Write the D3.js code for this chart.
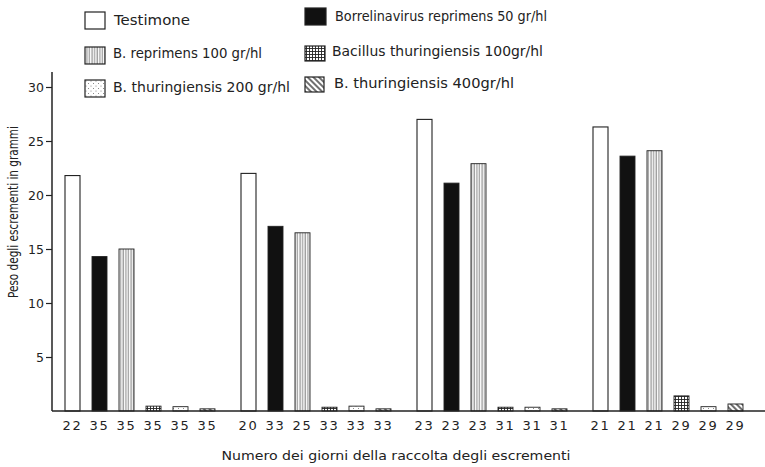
<!DOCTYPE html>
<html>
<head>
<meta charset="utf-8">
<script src="https://cdn.jsdelivr.net/npm/d3@7"></script>
<style>
  html, body { margin: 0; padding: 0; background: #fff; }
  svg { display: block; font-family: "DejaVu Sans", sans-serif; }
</style>
</head>
<body>
<div id="chart"></div>
<script>
// serie e valori (grammi)
const SERIES = ["Testimone", "Borrelinavirus reprimens 50 gr/hl", "B. reprimens 100 gr/hl",
                "Bacillus thuringiensis 100gr/hl", "B. thuringiensis 200 gr/hl", "B. thuringiensis 400gr/hl"];
const GROUPS = ["g1", "g2", "g3", "g4"];

const testimone   = [21.8, 22.0, 27.0, 26.3];
const borrelina50 = [14.3, 17.1, 21.1, 23.6];
const reprimens100 = [15.0, 16.5, 22.9, 24.1];
const bacillus100 = [0.45, 0.35, 0.35, 1.4];
const thur200     = [0.4, 0.45, 0.35, 0.4];
const thur400     = [0.2, 0.2, 0.2, 0.65];

// numero dei giorni, sotto ogni barra
const dayLabels = [
    ["22", "35", "35", "35", "35", "35"],
    ["20", "33", "25", "33", "33", "33"],
    ["23", "23", "23", "31", "31", "31"],
    ["21", "21", "21", "29", "29", "29"]
];
const yTicks = [5, 10, 15, 20, 25, 30];

const seriesValues = [testimone, borrelina50, reprimens100, bacillus100, thur200, thur400];
const FILLS = ["white", "#111", "url(#vstripe)", "url(#grid)", "url(#dots)", "url(#diag)"];

const W = 765, H = 467;
const svg = d3.select("#chart").append("svg").attr("width", W).attr("height", H);

// patterns
const defs = svg.append("defs");
const vs = defs.append("pattern").attr("id", "vstripe").attr("patternUnits", "userSpaceOnUse")
    .attr("width", 2.6).attr("height", 10);
vs.append("rect").attr("width", 2.6).attr("height", 10).attr("fill", "#fff");
vs.append("line").attr("x1", 1).attr("x2", 1).attr("y1", 0).attr("y2", 10)
    .attr("stroke", "#555").attr("stroke-width", 0.8);

const gp = defs.append("pattern").attr("id", "grid").attr("patternUnits", "userSpaceOnUse")
    .attr("width", 3).attr("height", 3);
gp.append("rect").attr("width", 3).attr("height", 3).attr("fill", "#fff");
gp.append("path").attr("d", "M0.5,0V3M0,0.5H3").attr("stroke", "#222").attr("stroke-width", 0.9);

const dp = defs.append("pattern").attr("id", "dots").attr("patternUnits", "userSpaceOnUse")
    .attr("width", 5).attr("height", 5);
dp.append("rect").attr("width", 5).attr("height", 5).attr("fill", "#fff");
dp.append("circle").attr("cx", 1).attr("cy", 1).attr("r", 0.5).attr("fill", "#666");
dp.append("circle").attr("cx", 3.5).attr("cy", 3.5).attr("r", 0.5).attr("fill", "#666");

const dg = defs.append("pattern").attr("id", "diag").attr("patternUnits", "userSpaceOnUse")
    .attr("width", 4).attr("height", 4).attr("patternTransform", "rotate(45)");
dg.append("rect").attr("width", 4).attr("height", 4).attr("fill", "#fff");
dg.append("line").attr("x1", 0).attr("x2", 4).attr("y1", 1).attr("y2", 1)
    .attr("stroke", "#222").attr("stroke-width", 1.3);

// scales
const x0 = d3.scaleBand().domain(GROUPS).range([59, 749]).paddingInner(14 / 176).paddingOuter(0);
const x1 = d3.scaleBand().domain(d3.range(SERIES.length)).range([0, x0.bandwidth()])
    .paddingInner(12 / 27).paddingOuter(6 / 27);
const y = d3.scaleLinear().domain([0, 30]).range([411, 87]);
const axisX = 52;

// bars
const bars = [];
GROUPS.forEach((g, gi) => {
    seriesValues.forEach((vals, si) => {
        bars.push({ g, gi, si, v: vals[gi], label: dayLabels[gi][si] });
    });
});

svg.append("g").selectAll("rect")
    .data(bars)
    .join("rect")
    .attr("x", d => x0(d.g) + x1(d.si))
    .attr("y", d => y(d.v))
    .attr("width", x1.bandwidth())
    .attr("height", d => y(0) - y(d.v))
    .attr("fill", d => FILLS[d.si])
    .attr("stroke", "#222")
    .attr("stroke-width", d => d.si === 0 ? 1.1 : 0.9);

// day labels
svg.append("g").selectAll("text")
    .data(bars)
    .join("text")
    .attr("x", d => x0(d.g) + x1(d.si) + x1.bandwidth() / 2)
    .attr("y", 430)
    .attr("text-anchor", "middle")
    .attr("font-size", 13)
    .attr("letter-spacing", 1.8)
    .attr("fill", "#222")
    .text(d => d.label);

// axes
const yAxis = svg.append("g")
    .attr("transform", `translate(${axisX},0)`)
    .call(d3.axisLeft(y).tickValues(yTicks).tickSize(6).tickPadding(2))
    .call(ax => ax.select(".domain").remove());
yAxis.selectAll(".tick line").attr("stroke", "#222").attr("stroke-width", 1.2);
yAxis.selectAll(".tick text").attr("font-size", 12.5).attr("fill", "#222")
    .attr("font-family", "DejaVu Sans, sans-serif");

svg.append("line")
    .attr("x1", axisX).attr("x2", axisX)
    .attr("y1", y(0)).attr("y2", y(31.4))
    .attr("stroke", "#222").attr("stroke-width", 1.5);
svg.append("line")
    .attr("x1", axisX).attr("x2", W)
    .attr("y1", y(0)).attr("y2", y(0))
    .attr("stroke", "#222").attr("stroke-width", 1.5);

// axis titles
svg.append("text")
    .attr("x", 396).attr("y", 460)
    .attr("text-anchor", "middle")
    .attr("font-size", 12.5)
    .attr("fill", "#222")
    .attr("textLength", 349)
    .attr("lengthAdjust", "spacingAndGlyphs")
    .text("Numero dei giorni della raccolta degli escrementi");

svg.append("text")
    .attr("transform", "translate(18,212) rotate(-90)")
    .attr("text-anchor", "middle")
    .attr("font-size", 14)
    .attr("fill", "#222")
    .attr("textLength", 172)
    .attr("lengthAdjust", "spacingAndGlyphs")
    .text("Peso degli escrementi in grammi");

// legend
const legendItems = [
    { si: 0, bx: 85, by: 12, bw: 20, bh: 17, tx: 114, ty: 25, tw: 76 },
    { si: 1, bx: 305, by: 8, bw: 21, bh: 17, tx: 335, ty: 21, tw: 212 },
    { si: 2, bx: 85, by: 47, bw: 20, bh: 17, tx: 113, ty: 58, tw: 149 },
    { si: 3, bx: 305, by: 46, bw: 20, bh: 15, tx: 332, ty: 56, tw: 211 },
    { si: 4, bx: 85, by: 80, bw: 20, bh: 17, tx: 113, ty: 92, tw: 177 },
    { si: 5, bx: 305, by: 77, bw: 19, bh: 15, tx: 334, ty: 88, tw: 180 }
];
const leg = svg.append("g");
leg.selectAll("rect")
    .data(legendItems)
    .join("rect")
    .attr("x", d => d.bx).attr("y", d => d.by)
    .attr("width", d => d.bw).attr("height", d => d.bh)
    .attr("fill", d => FILLS[d.si])
    .attr("stroke", "#222").attr("stroke-width", 1.2);
leg.selectAll("text")
    .data(legendItems)
    .join("text")
    .attr("x", d => d.tx).attr("y", d => d.ty)
    .attr("font-size", 14.5)
    .attr("fill", "#222")
    .attr("textLength", d => d.tw)
    .attr("lengthAdjust", "spacingAndGlyphs")
    .text(d => SERIES[d.si]);
</script>
</body>
</html>
